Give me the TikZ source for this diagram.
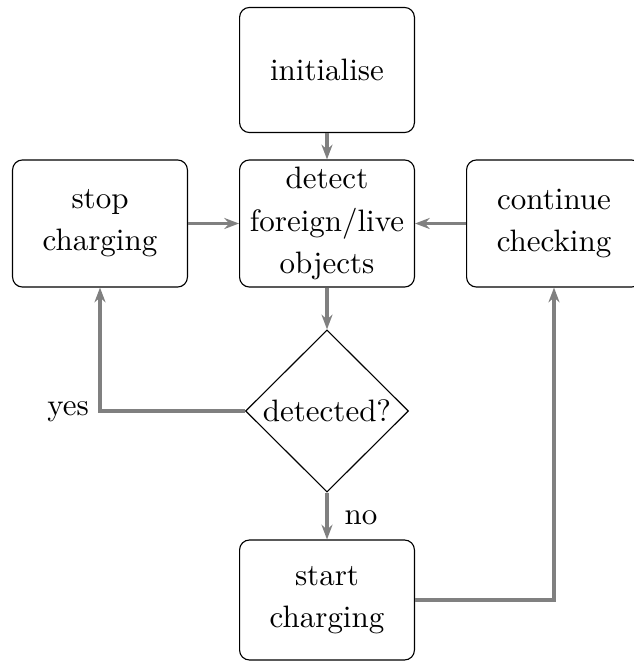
\documentclass[tikz,border=0pt]{standalone}
\usetikzlibrary{shapes.geometric,arrows.meta}
\begin{document}
\begin{tikzpicture}[x=0.3534pt,y=-0.3534pt,
  font=\fontsize{10.95}{14.9}\selectfont,
  box/.style={draw=black,line width=0.4pt,rounded corners=3.5pt,minimum width=61.8pt,minimum height=44.9pt,align=center,inner sep=2pt},
  decision/.style={draw=black,line width=0.4pt,shape=diamond,minimum width=57.6pt,minimum height=57.3pt,inner sep=0pt,align=center},
  arr/.style={draw=gray,line width=1.2pt,-{Stealth[length=5.2pt,width=3.9pt]}},
  lbl/.style={inner sep=0pt}]
\useasboundingbox (0,0) rectangle (633,662);
\node[box,minimum height=44.2pt] (init) at (327,70) {initialise};
\node[box] (detect) at (327,223.5) {detect\\foreign/live\\objects};
\node[box] (stop) at (100,223.5) {stop\\charging};
\node[box] (cont) at (554,223.5) {continue\\checking};
\node[decision] (dec) at (327,411) {detected?};
\node[box,minimum height=42.4pt] (start) at (327,600) {start\\charging};
\node[lbl] (yes) at (68,412) {yes};
\node[lbl] (no) at (361,518) {no};
\draw[arr] (init) -- (detect);
\draw[arr] (stop) -- (detect);
\draw[arr] (cont) -- (detect);
\draw[arr] (detect) -- (dec);
\draw[arr] (dec.west) -| (stop.south);
\draw[arr] (dec.south) -- (start);
\draw[arr] (start.east) -| (cont.south);
\end{tikzpicture}
\end{document}
